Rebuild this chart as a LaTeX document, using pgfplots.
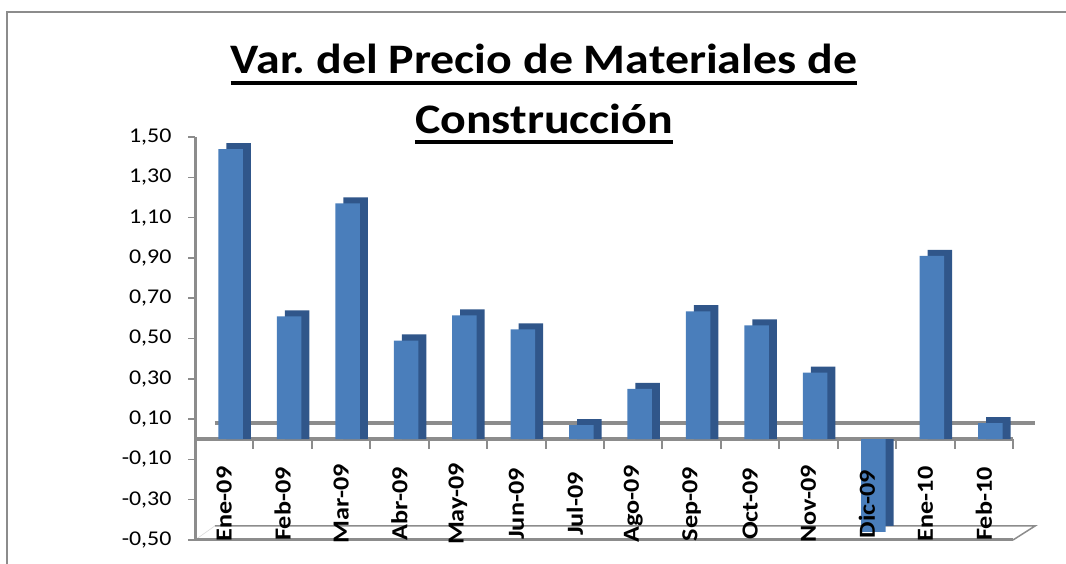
\documentclass[border=0pt]{standalone}
\usepackage{pgfplots}
\pgfplotsset{compat=1.18}
\usepackage{pgfplotstable}
\usepackage{fontspec}
\setmainfont{Carlito}
\newfontfamily\stretchfont[FakeStretch=1.14]{Carlito}
\definecolor{barfront}{HTML}{4A7EBB}
\definecolor{barside}{HTML}{30568A}
\definecolor{axgray}{HTML}{8C8C8C}
\frenchspacing

\pgfplotstableread{
x v
0 1.44
1 0.61
2 1.17
3 0.49
4 0.615
5 0.545
6 0.07
7 0.25
8 0.635
9 0.565
10 0.33
11 -0.46
12 0.91
13 0.08
}\datatable

\begin{document}
\begin{tikzpicture}[x=1pt,y=1pt]
\useasboundingbox (0,0) rectangle (1066,564);
\draw[axgray, line width=2pt] (7,0) -- (7,552) -- (1070,552);
\node[anchor=base, inner sep=0pt, font=\stretchfont\fontsize{42}{50}\selectfont\bfseries] (t1) at (544,490) {Var. del Precio de Materiales de};
\node[anchor=base, inner sep=0pt, font=\stretchfont\fontsize{42}{50}\selectfont\bfseries] (t2) at (544,430) {Construcción};
\draw[black, line width=3.5pt] ([yshift=-9pt]t1.base west) -- ([yshift=-9pt]t1.base east);
\draw[black, line width=3.5pt] ([yshift=-8pt]t2.base west) -- ([yshift=-8pt]t2.base east);
\begin{axis}[at={(195pt,24pt)}, anchor=south west, scale only axis,
  width=818pt, height=403pt,
  xmin=-0.5, xmax=13.5, ymin=-0.5, ymax=1.5,
  clip=false, axis on top,
  axis x line*=bottom, axis y line*=left,
  axis line style={axgray, line width=3pt, -},
  ytick={-0.5,-0.3,-0.1,0.1,0.3,0.5,0.7,0.9,1.1,1.3,1.5},
  /pgf/number format/fixed, /pgf/number format/fixed zerofill,
  /pgf/number format/precision=2, /pgf/number format/use comma,
  /pgf/number format/assume math mode=true,
  y tick label style={font=\stretchfont\fontsize{21}{21}\selectfont, xshift=-13pt},
  ytick style={axgray, line width=1.5pt},
  tick align=outside, major tick length=7pt,
  xtick={0,...,13},
  xticklabels={Ene-09,Feb-09,Mar-09,Abr-09,May-09,Jun-09,Jul-09,Ago-09,Sep-09,Oct-09,Nov-09,Dic-09,Ene-10,Feb-10},
  xtick style={draw=none},
  x tick label style={font=\stretchfont\fontsize{23}{23}\selectfont\bfseries, yshift=43pt, rotate=90, anchor=center},
]
\draw[axgray, line width=1.5pt] (axis cs:-0.16,-0.43) -- (axis cs:13.88,-0.43) -- (axis cs:13.5,-0.5);
\draw[gray!30, line width=0.6pt] (axis cs:-0.5,-0.5) -- (axis cs:-0.16,-0.43);
\draw[axgray, line width=3.5pt] (axis cs:-0.16,0.08) -- (axis cs:13.88,0.08);
\draw[axgray, line width=3.5pt] (axis cs:-0.5,0) -- (axis cs:13.5,0);
\pgfplotsinvokeforeach{0,...,13}{\draw[axgray, line width=2pt] (axis cs:#1+0.5,0) -- ([yshift=-10pt]axis cs:#1+0.5,0);}
\addplot[ybar, bar width=24.5pt, bar shift=14.5pt, fill=barside, draw=none] table[x=x, y expr=\thisrow{v}+0.03] {\datatable};
\addplot[ybar, bar width=24.5pt, bar shift=6.5pt, fill=barfront, draw=none] table[x=x, y=v] {\datatable};
\end{axis}
\end{tikzpicture}
\end{document}
